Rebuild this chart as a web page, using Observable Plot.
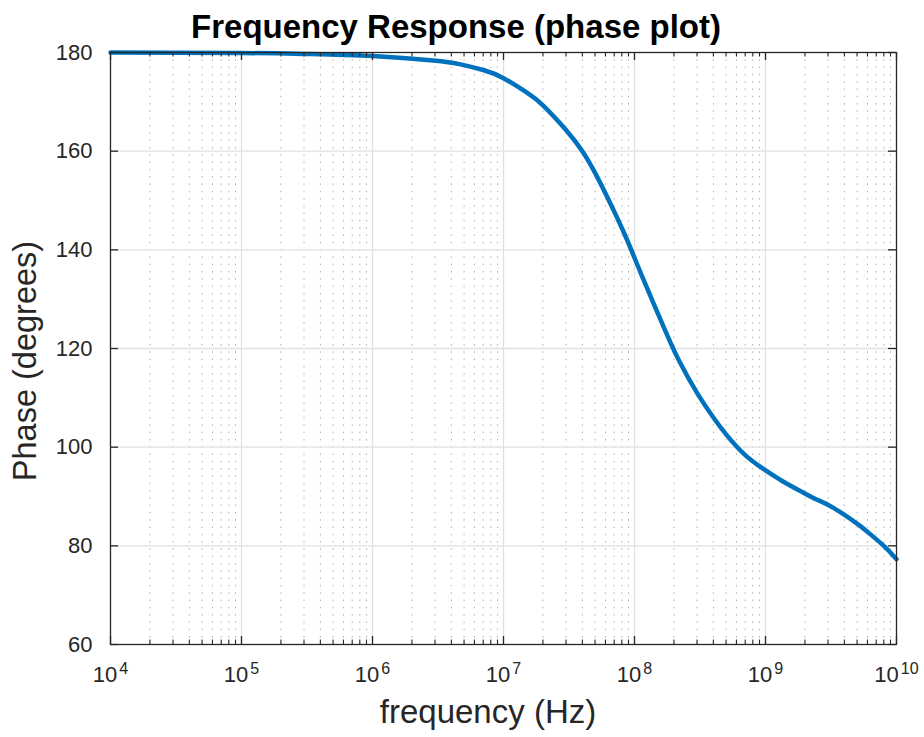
<!DOCTYPE html>
<html>
<head>
<meta charset="utf-8">
<script src="https://cdn.jsdelivr.net/npm/d3@7"></script>
<script src="https://cdn.jsdelivr.net/npm/@observablehq/plot@0.6"></script>
<style>
  html, body { margin: 0; padding: 0; background: #fff; }
  #chart svg { display: block; }
</style>
</head>
<body>
<div id="chart"></div>
<script>
// ---- data ----
const frequency = [1e4, 1e5, 3.2e5, 1e6, 2.9e6, 4.7e6, 7.1e6, 1e7, 1.5e7, 2e7, 3e7, 4e7, 5e7, 6.6e7, 8.65e7,
                   1.1e8, 1.4e8, 1.79e8, 2.2e8, 3e8, 4e8, 5e8, 7e8, 1e9, 1.35e9, 2e9, 2.45e9, 3.3e9, 5e9, 5.9e9, 8e9, 1e10];
const phase     = [180, 179.9, 179.7, 179.3, 178.4, 177.6, 176.4, 174.8, 171.9, 169.3, 164.3, 160.0, 155.6, 149.2, 142.4,
                   135.7, 129.1, 122.5, 117.4, 111.0, 106.0, 102.6, 98.4, 95.3, 93.1, 90.6, 89.4, 87.7, 84.5, 83.0, 80.0, 77.3];
const yTicks = [60, 80, 100, 120, 140, 160, 180];
const xDecades = [1e4, 1e5, 1e6, 1e7, 1e8, 1e9, 1e10];
const xMinor = [];
for (let e = 4; e < 10; e++) for (let m = 2; m <= 9; m++) xMinor.push(m * Math.pow(10, e));
const titleText = "Frequency Response (phase plot)";
const xLabel = "frequency (Hz)";
const yLabel = "Phase (degrees)";

const data = frequency.map((f, i) => ({f, p: phase[i]}));

// ---- layout ----
const W = 924, H = 737;
const mT = 52, mB = 93, mL = 110, mR = 28;
const fw = W - mL - mR, fh = H - mT - mB;
const axisColor = "#262626";
const font = "'Liberation Sans', Arial, Helvetica, sans-serif";

const chart = Plot.plot({
  width: W,
  height: H,
  marginTop: mT, marginBottom: mB, marginLeft: mL, marginRight: mR,
  style: {fontFamily: font, fontSize: "22px", color: axisColor, background: "#fff"},
  x: {type: "log", domain: [1e4, 1e10]},
  y: {domain: [60, 180]},
  marks: [
    // minor dotted grid
    Plot.ruleX(xMinor, {stroke: "#b0b0b0", strokeWidth: 1, strokeDasharray: "1.5,5.8"}),
    // major grid
    Plot.ruleX(xDecades.slice(1, -1), {stroke: "#e0e0e0", strokeWidth: 1.3}),
    Plot.ruleY(yTicks.slice(1, -1), {stroke: "#e0e0e0", strokeWidth: 1.3}),
    // curve
    Plot.line(data, {x: "f", y: "p", stroke: "#0072BD", strokeWidth: 4.5, curve: "natural", strokeLinejoin: "round"}),
    // box
    Plot.frame({stroke: axisColor, strokeWidth: 1.3}),
    // inward ticks: bottom & top
    Plot.tickX(xDecades, {x: d => d, stroke: axisColor, strokeWidth: 1.3, insetTop: fh - 8}),
    Plot.tickX(xDecades, {x: d => d, stroke: axisColor, strokeWidth: 1.3, insetBottom: fh - 8}),
    Plot.tickX(xMinor, {x: d => d, stroke: axisColor, strokeWidth: 1.1, insetTop: fh - 4.5}),
    Plot.tickX(xMinor, {x: d => d, stroke: axisColor, strokeWidth: 1.1, insetBottom: fh - 4.5}),
    // inward ticks: left & right
    Plot.tickY(yTicks, {y: d => d, stroke: axisColor, strokeWidth: 1.3, insetRight: fw - 8}),
    Plot.tickY(yTicks, {y: d => d, stroke: axisColor, strokeWidth: 1.3, insetLeft: fw - 8}),
    // tick labels
    Plot.axisY({ticks: yTicks, tickSize: 0, tickPadding: 18, fontSize: 22, tickFormat: d => String(d), label: null, fill: axisColor}),
    Plot.axisX({ticks: xDecades, tickSize: 0, tickPadding: 22, fontSize: 22, tickFormat: d => "10^" + Math.round(Math.log10(d)), label: null, fill: axisColor})
  ]
});

document.getElementById("chart").appendChild(chart);

const svg = d3.select(chart);

// superscript exponents on x tick labels
svg.selectAll('g[aria-label="x-axis tick label"] text').each(function () {
  const t = d3.select(this);
  const s = t.text();
  const [base, exp] = s.split("^");
  t.text(null);
  t.append("tspan").text(base);
  t.append("tspan").attr("dx", 2).attr("dy", -8).style("font-size", "16px").text(exp);
});

// title and axis labels
svg.append("text")
  .attr("x", 456).attr("y", 38)
  .attr("text-anchor", "middle")
  .attr("font-family", font).attr("font-weight", "bold").attr("font-size", 33)
  .attr("fill", "#000")
  .text(titleText);

svg.append("text")
  .attr("x", 488).attr("y", 723)
  .attr("text-anchor", "middle")
  .attr("font-family", font).attr("font-size", 33)
  .attr("fill", axisColor)
  .text(xLabel);

svg.append("text")
  .attr("transform", "translate(36,361) rotate(-90)")
  .attr("text-anchor", "middle")
  .attr("font-family", font).attr("font-size", 32.5)
  .attr("fill", axisColor)
  .text(yLabel);
</script>
</body>
</html>
